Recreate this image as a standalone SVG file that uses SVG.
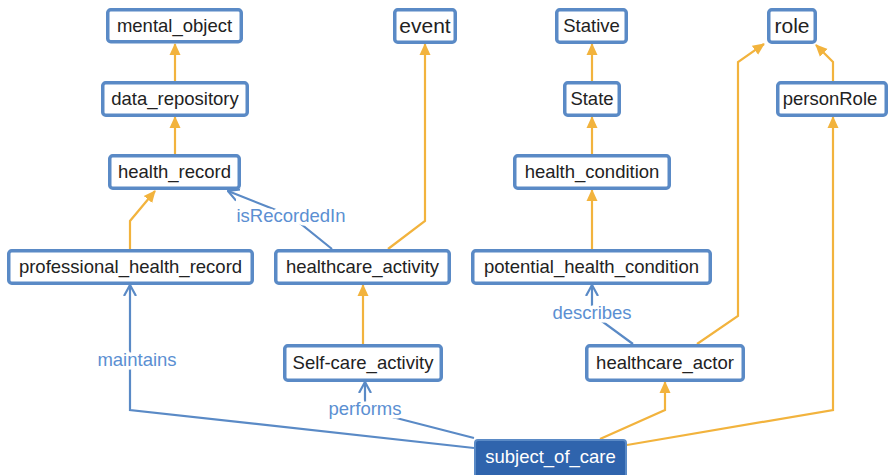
<svg xmlns="http://www.w3.org/2000/svg" width="889" height="475" viewBox="0 0 889 475">
  <defs>
    <marker id="tri" viewBox="0 0 12 12" refX="11" refY="6" markerWidth="12" markerHeight="12" markerUnits="userSpaceOnUse" orient="auto">
      <path d="M0,0.5 L12,6 L0,11.5 z" fill="#f2b33d"/>
    </marker>
    <marker id="vee" viewBox="0 0 12 14" refX="11" refY="7" markerWidth="12" markerHeight="14" markerUnits="userSpaceOnUse" orient="auto">
      <path d="M0,1 L11,7 L0,13" fill="none" stroke="#5a8ac6" stroke-width="2.2"/>
    </marker>
    <style>
      .box { fill: #ffffff; stroke: #5a8ac6; stroke-width: 3.5; }
      .dark { fill: #2f64ad; stroke: #5a8ac6; stroke-width: 2; }
      .lbl { font-family: "Liberation Sans", Arial, sans-serif; font-size: 18.5px; fill: #222222; text-anchor: middle; }
      .lbl.big { font-size: 21px; }
      .lbl.inv { fill: #ffffff; }
      .isa { fill: none; stroke: #f2b33d; stroke-width: 2.2; marker-end: url(#tri); }
      .rel { fill: none; stroke: #5a8ac6; stroke-width: 2.2; marker-end: url(#vee); }
      .rname { font-family: "Liberation Sans", Arial, sans-serif; font-size: 18.5px; fill: #5b8fd2; text-anchor: middle; stroke: #ffffff; stroke-width: 7; paint-order: stroke; stroke-linejoin: round; }
    </style>
  </defs>

  <g id="connectors">
    <!-- subclass links -->
    <path class="isa" d="M175,81 V44"/>
    <path class="isa" d="M175,154 V117"/>
    <path class="isa" d="M130,249 V221 L155,191"/>
    <path class="isa" d="M388,249 L425,221 V44"/>
    <path class="isa" d="M363,344 V285"/>
    <path class="isa" d="M592,81 V44"/>
    <path class="isa" d="M592,154 V117"/>
    <path class="isa" d="M592,249 V190"/>
    <path class="isa" d="M697,344 L738,316 V62 L764,44"/>
    <path class="isa" d="M833,81 V62 L816,45"/>
    <path class="isa" d="M600,439 L665,410 V382"/>
    <path class="isa" d="M627,445 L833,410 V117"/>
    <!-- relations -->
    <path class="rel" d="M332,249 L291,216 L228,191"/>
    <path class="rel" d="M474,448 L130,410 V285"/>
    <path class="rel" d="M474,438 L365,410 V382"/>
    <path class="rel" d="M633,344 L592,314 V285"/>
    <text class="rname" x="291" y="222">isRecordedIn</text>
    <text class="rname" x="137" y="366">maintains</text>
    <text class="rname" x="365" y="415">performs</text>
    <text class="rname" x="592" y="319">describes</text>
  </g>

  <g id="mental_object"><rect class="box" x="107.75" y="9.75" width="133.5" height="32" rx="3"/><text class="lbl" x="174.5" y="32">mental_object</text></g>
  <g id="data_repository"><rect class="box" x="102.75" y="82.75" width="144.5" height="32.5" rx="3"/><text class="lbl" x="175" y="105">data_repository</text></g>
  <g id="health_record"><rect class="box" x="109.75" y="155.75" width="129.5" height="32.5" rx="3"/><text class="lbl" x="174.5" y="178">health_record</text></g>
  <g id="event"><rect class="box" x="394.75" y="9.75" width="60.5" height="32.5" rx="3"/><text class="lbl big" x="425" y="33">event</text></g>
  <g id="Stative"><rect class="box" x="556.75" y="9.75" width="69.5" height="32.5" rx="3"/><text class="lbl" x="591.5" y="32">Stative</text></g>
  <g id="State"><rect class="box" x="564.75" y="82.75" width="54.5" height="32.5" rx="3"/><text class="lbl" x="592" y="105">State</text></g>
  <g id="health_condition"><rect class="box" x="514.75" y="155.75" width="154.5" height="32.5" rx="3"/><text class="lbl" x="592" y="178">health_condition</text></g>
  <g id="role"><rect class="box" x="768.75" y="9.75" width="46.5" height="32.5" rx="3"/><text class="lbl big" x="792" y="33">role</text></g>
  <g id="personRole"><rect class="box" x="777.75" y="82.75" width="108.5" height="32.5" rx="3"/><text class="lbl" x="830" y="105">personRole</text></g>
  <g id="professional_health_record"><rect class="box" x="8.75" y="250.75" width="243.5" height="32.5" rx="3"/><text class="lbl" x="130.5" y="273">professional_health_record</text></g>
  <g id="healthcare_activity"><rect class="box" x="275.75" y="250.75" width="173.5" height="32.5" rx="3"/><text class="lbl" x="362.5" y="273">healthcare_activity</text></g>
  <g id="potential_health_condition"><rect class="box" x="472.75" y="250.75" width="237.5" height="32.5" rx="3"/><text class="lbl" x="591.5" y="273">potential_health_condition</text></g>
  <g id="Self-care_activity"><rect class="box" x="284.75" y="345.75" width="156.5" height="34.5" rx="3"/><text class="lbl" x="363" y="369">Self-care_activity</text></g>
  <g id="healthcare_actor"><rect class="box" x="586.75" y="345.75" width="156.5" height="34.5" rx="3"/><text class="lbl" x="665" y="369">healthcare_actor</text></g>
  <g id="subject_of_care"><rect class="dark" x="475" y="440" width="151" height="42" rx="3"/><text class="lbl inv" x="550.5" y="463">subject_of_care</text></g>
</svg>
